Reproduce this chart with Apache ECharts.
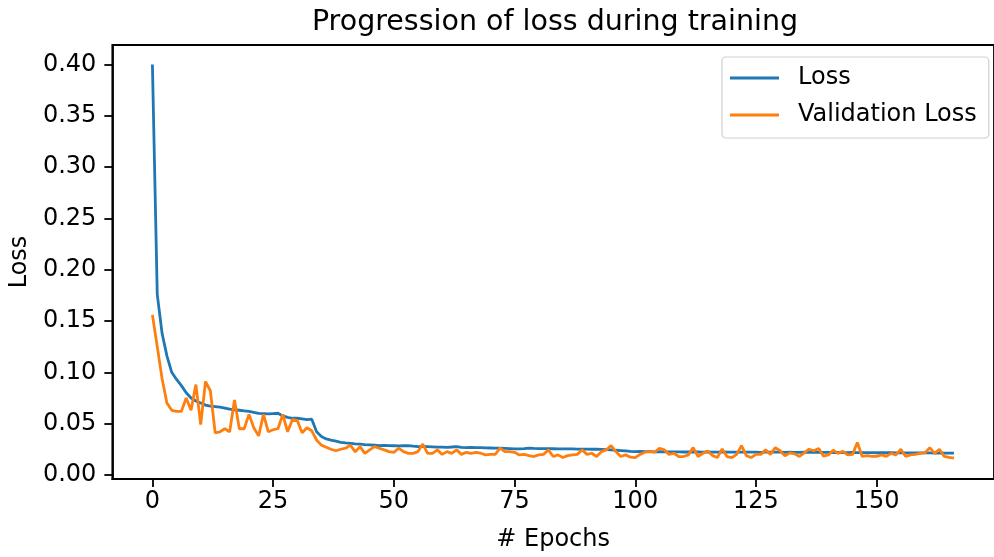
<!DOCTYPE html>
<html>
<head>
<meta charset="utf-8">
<script src="https://cdn.jsdelivr.net/npm/echarts@6/dist/echarts.min.js"></script>
<style>
  html, body { margin: 0; padding: 0; background: #fff; }
  #chart { width: 994px; height: 557px; }
</style>
</head>
<body>
<div id="chart"></div>
<script>
// Training loss per epoch (epochs 0..166)
const lossValues = [
  0.400, 0.176, 0.138, 0.116, 0.100, 0.093, 0.087, 0.080, 0.075, 0.072,
  0.070, 0.068, 0.067, 0.0665, 0.066, 0.065, 0.064, 0.0635, 0.063, 0.0625,
  0.062, 0.061, 0.060, 0.0598, 0.0595, 0.0598, 0.0601, 0.0575, 0.056, 0.0552,
  0.0552, 0.0546, 0.0538, 0.0543, 0.042, 0.0374, 0.0351, 0.034, 0.033, 0.0318,
  0.0312, 0.0308, 0.0303, 0.0299, 0.0295, 0.0292, 0.0289, 0.0286, 0.0287, 0.0285,
  0.0284, 0.0282, 0.0284, 0.0286, 0.0280, 0.0276, 0.0277, 0.0275, 0.0273, 0.0270,
  0.0271, 0.0269, 0.0272, 0.0276, 0.0268, 0.0266, 0.0267, 0.0265, 0.0265, 0.0263,
  0.0262, 0.0261, 0.0260, 0.0258, 0.0256, 0.0254, 0.0253, 0.0256, 0.0260, 0.0258,
  0.0257, 0.0257, 0.0256, 0.0255, 0.0254, 0.0253, 0.0253, 0.0254, 0.0252, 0.0252,
  0.0251, 0.0250, 0.0250, 0.0248, 0.0246, 0.0244, 0.0240, 0.0237, 0.0234, 0.0229,
  0.0227, 0.0228, 0.0226, 0.0227, 0.0225, 0.0226, 0.0225, 0.0224, 0.0225, 0.0224,
  0.0223, 0.0224, 0.0223, 0.0223, 0.0222, 0.0223, 0.0222, 0.0222, 0.0223, 0.0221,
  0.0222, 0.0221, 0.0222, 0.0221, 0.0221, 0.0222, 0.0220, 0.0221, 0.0221, 0.0222,
  0.0221, 0.0220, 0.0221, 0.0220, 0.0220, 0.0221, 0.0219, 0.0220, 0.0219, 0.0220,
  0.0219, 0.0218, 0.0219, 0.0218, 0.0218, 0.0219, 0.0217, 0.0218, 0.0217, 0.0217,
  0.0216, 0.0217, 0.0216, 0.0216, 0.0215, 0.0216, 0.0215, 0.0215, 0.0214, 0.0215,
  0.0214, 0.0214, 0.0213, 0.0214, 0.0213, 0.0213, 0.0212
];

// Validation loss per epoch (epochs 0..166)
const valLossValues = [
  0.156, 0.125, 0.094, 0.070, 0.063, 0.062, 0.062, 0.075, 0.063, 0.088,
  0.049, 0.091, 0.082, 0.041, 0.042, 0.045, 0.042, 0.073, 0.045, 0.045,
  0.059, 0.046, 0.038, 0.059, 0.042, 0.044, 0.045, 0.059, 0.042, 0.054,
  0.053, 0.041, 0.046, 0.043, 0.034, 0.029, 0.027, 0.025, 0.0235, 0.025,
  0.026, 0.029, 0.0225, 0.0276, 0.021, 0.0244, 0.0276, 0.026, 0.0244, 0.0227,
  0.022, 0.026, 0.0227, 0.021, 0.021, 0.0227, 0.030, 0.021, 0.021, 0.0244,
  0.020, 0.0227, 0.021, 0.0244, 0.020, 0.022, 0.021, 0.022, 0.0211, 0.0195,
  0.020, 0.020, 0.026, 0.0227, 0.0227, 0.022, 0.0195, 0.020, 0.0188, 0.0179,
  0.0195, 0.020, 0.0244, 0.0179, 0.0195, 0.0169, 0.0188, 0.0195, 0.020, 0.0244,
  0.020, 0.0211, 0.0179, 0.0227, 0.0244, 0.0286, 0.0227, 0.0179, 0.0195, 0.0173,
  0.0169, 0.020, 0.0221, 0.0227, 0.0221, 0.026, 0.0244, 0.020, 0.0211, 0.0179,
  0.0179, 0.0195, 0.0266, 0.0179, 0.0211, 0.0234, 0.0188, 0.0169, 0.0253, 0.0179,
  0.0169, 0.020, 0.0286, 0.0188, 0.0169, 0.020, 0.020, 0.0244, 0.020, 0.0266,
  0.0235, 0.0185, 0.0215, 0.0205, 0.0180, 0.0215, 0.0250, 0.0235, 0.0258, 0.0182,
  0.0195, 0.0240, 0.0210, 0.0230, 0.0195, 0.0200, 0.0315, 0.0180, 0.0188, 0.0180,
  0.0180, 0.0195, 0.0180, 0.0210, 0.0195, 0.0250, 0.0180, 0.0195, 0.0200, 0.0210,
  0.0215, 0.0265, 0.0210, 0.0250, 0.0180, 0.0170, 0.0163
];

const epochTicks = [0, 25, 50, 75, 100, 125, 150];
const lossTicks = [0.00, 0.05, 0.10, 0.15, 0.20, 0.25, 0.30, 0.35, 0.40];

const seriesNames = ['Loss', 'Validation Loss'];
const seriesColors = ['#1f77b4', '#ff7f0e'];

const toPoints = arr => arr.map((v, i) => [i, v]);

const FONT = 'DejaVu Sans';
const TEXT = '#000';
const SPINE = 1.8;

const chart = echarts.init(document.getElementById('chart'), null, { renderer: 'canvas' });

chart.setOption({
  backgroundColor: '#fff',
  animation: false,
  title: {
    text: 'Progression of loss during training',
    left: 550,
    top: 3,
    textAlign: 'center',
    textStyle: { fontFamily: FONT, fontSize: 28.5, fontWeight: 'normal', color: TEXT }
  },
  legend: {
    orient: 'vertical',
    left: 722,
    top: 57,
    padding: [9, 12, 11, 8],
    itemGap: 13,
    itemWidth: 49,
    itemHeight: 3,
    icon: 'rect',
    borderColor: '#d0d0d0',
    borderWidth: 1.2,
    borderRadius: 4,
    backgroundColor: 'rgba(255,255,255,0.8)',
    textStyle: { fontFamily: FONT, fontSize: 24, color: TEXT, padding: [0, 0, 0, 14] },
    data: seriesNames
  },
  grid: {
    left: 111,
    top: 45,
    width: 887,
    height: 435,
    show: true,
    borderColor: '#000',
    borderWidth: SPINE,
    backgroundColor: 'transparent'
  },
  xAxis: {
    type: 'value',
    min: -8.3,
    max: 174.3,
    name: '# Epochs',
    nameLocation: 'middle',
    nameGap: 49,
    nameTextStyle: { fontFamily: FONT, fontSize: 24, color: TEXT },
    splitLine: { show: false },
    axisLine: { show: true, onZero: false, lineStyle: { color: '#000', width: SPINE } },
    axisTick: { show: true, length: 8, lineStyle: { color: '#000', width: SPINE }, customValues: epochTicks },
    axisLabel: {
      fontFamily: FONT, fontSize: 24, color: TEXT, margin: 11,
      customValues: epochTicks,
      formatter: v => String(v)
    }
  },
  yAxis: {
    type: 'value',
    min: -0.004,
    max: 0.419,
    name: 'Loss',
    nameLocation: 'middle',
    nameGap: 78,
    nameTextStyle: { fontFamily: FONT, fontSize: 24, color: TEXT },
    splitLine: { show: false },
    axisLine: { show: true, onZero: false, lineStyle: { color: '#000', width: SPINE } },
    axisTick: { show: true, length: 8, lineStyle: { color: '#000', width: SPINE }, customValues: lossTicks },
    axisLabel: {
      fontFamily: FONT, fontSize: 24, color: TEXT, margin: 16,
      customValues: lossTicks,
      formatter: v => v.toFixed(2)
    }
  },
  series: [
    {
      name: seriesNames[0],
      type: 'line',
      data: toPoints(lossValues),
      showSymbol: false,
      symbol: 'none',
      color: seriesColors[0],
      lineStyle: { color: seriesColors[0], width: 2.8 },
      z: 2
    },
    {
      name: seriesNames[1],
      type: 'line',
      data: toPoints(valLossValues),
      showSymbol: false,
      symbol: 'none',
      color: seriesColors[1],
      lineStyle: { color: seriesColors[1], width: 2.8 },
      z: 3
    }
  ]
});
</script>
</body>
</html>
